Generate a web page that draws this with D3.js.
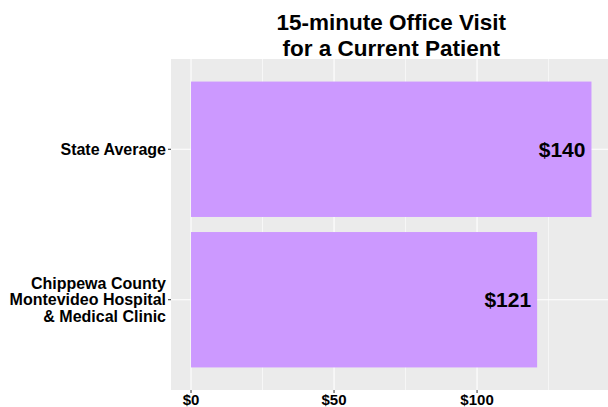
<!DOCTYPE html>
<html><head><meta charset="utf-8">
<script src="https://cdn.jsdelivr.net/npm/d3@7"></script>
<style>body{margin:0;background:#fff}svg{display:block;font-family:"Liberation Sans",Arial,sans-serif}</style>
</head><body><svg id="c" width="608" height="407"></svg>
<script>
const categories = ["Chippewa County\nMontevideo Hospital\n& Medical Clinic", "State Average"];
const values = [121, 140];
const valueLabels = ["$121", "$140"];
const majorTicks = [0, 50, 100];
const tickLabels = ["$0", "$50", "$100"];
const minorTicks = [25, 75, 125];
const titleLines = ["15-minute Office Visit", "for a Current Patient"];

const svg = d3.select("#c");
const panel = {left: 171, top: 59, bottom: 390};
const maxV = d3.max(values);
const x = d3.scaleLinear().domain([-0.05*maxV, 1.05*maxV]).range([panel.left, 611.5]);
const panelRight = x(1.05*maxV);
const n = categories.length;
const yc = d3.scaleLinear().domain([0.4, n+0.6]).range([panel.bottom, panel.top]);

svg.append("rect").attr("x", panel.left).attr("y", panel.top)
  .attr("width", panelRight - panel.left).attr("height", panel.bottom - panel.top).attr("fill", "#EBEBEB");

const g = svg.append("g");
minorTicks.forEach(t => g.append("line").attr("x1", x(t)).attr("x2", x(t)).attr("y1", panel.top).attr("y2", panel.bottom).attr("stroke", "#fff").attr("stroke-width", 0.6));
majorTicks.forEach(t => g.append("line").attr("x1", x(t)).attr("x2", x(t)).attr("y1", panel.top).attr("y2", panel.bottom).attr("stroke", "#fff").attr("stroke-width", 1.1));
categories.forEach((c,i) => g.append("line").attr("x1", panel.left).attr("x2", panelRight).attr("y1", yc(i+1)).attr("y2", yc(i+1)).attr("stroke", "#fff").attr("stroke-width", 1.1));

categories.forEach((c,i) => {
  const top = yc(i+1+0.45), bot = yc(i+1-0.45);
  g.append("rect").attr("x", x(0)).attr("y", top).attr("width", x(values[i]) - x(0)).attr("height", bot - top).attr("fill", "#CC99FF");
  g.append("text").attr("x", x(values[i]) - 6).attr("y", yc(i+1)).attr("dy", "0.36em")
    .attr("text-anchor", "end").attr("font-size", 21).attr("font-weight", "bold").attr("fill", "#000").text(valueLabels[i]);
});

// y axis
categories.forEach((c,i) => {
  const yy = yc(i+1);
  svg.append("line").attr("x1", panel.left - 3).attr("x2", panel.left).attr("y1", yy).attr("y2", yy).attr("stroke", "#333").attr("stroke-width", 1);
  const lines = c.split("\n");
  const lh = 16.5;
  const t = svg.append("text").attr("text-anchor", "end").attr("font-size", 16).attr("font-weight", "bold").attr("fill", "#000");
  lines.forEach((l,k) => t.append("tspan").attr("x", panel.left - 5).attr("y", yy + (k - (lines.length-1)/2)*lh).attr("dy", "0.36em").text(l));
});
// x axis
majorTicks.forEach((tv,i) => {
  svg.append("line").attr("x1", x(tv)).attr("x2", x(tv)).attr("y1", panel.bottom).attr("y2", panel.bottom+3).attr("stroke", "#333");
  svg.append("text").attr("x", x(tv)).attr("y", 400).attr("dy", "0.36em").attr("text-anchor", "middle")
    .attr("font-size", 15).attr("font-weight", "bold").attr("fill", "#000").text(tickLabels[i]);
});
// title
const cx = (panel.left + panelRight)/2;
titleLines.forEach((l,k) => svg.append("text").attr("x", cx).attr("y", 30 + k*25.5).attr("text-anchor", "middle")
  .attr("font-size", 22.5).attr("font-weight", "bold").attr("fill", "#000").text(l));
</script></body></html>
